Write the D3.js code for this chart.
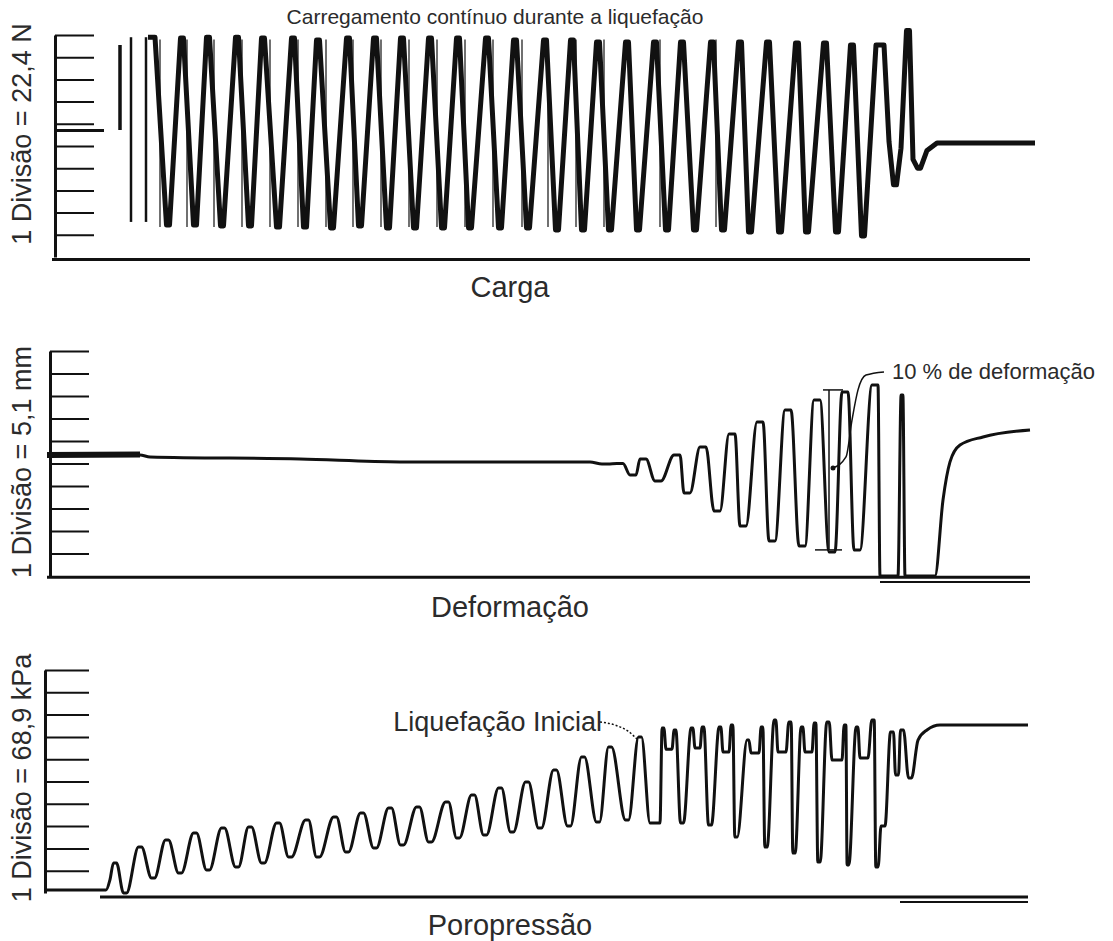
<!DOCTYPE html>
<html>
<head>
<meta charset="utf-8">
<script src="https://cdn.jsdelivr.net/npm/d3@7"></script>
<style>
  body { margin: 0; background: #fff; }
  text { font-family: "Liberation Sans", Arial, sans-serif; fill: #2b2b2b; }
</style>
</head>
<body>
<div class="chart"></div>
<script>
// tempo = arbitrary time units along the strip chart, div = chart divisions
const cargaTempo = [108, 115, 128, 142, 155, 168, 182, 197, 210, 223, 238, 253, 265, 278, 292, 308, 320, 335, 348, 362,
    375, 390, 403, 418, 430, 447, 460, 475, 488, 505, 517, 532, 543, 558, 570, 587, 598, 615, 627, 642,
    655, 672, 683, 700, 710, 728, 740, 757, 767, 785, 797, 812, 823, 836, 844, 849, 855, 861, 868, 873,
    879, 887, 897, 995];
const cargaDiv = [9.9, 9.9, 1.44, 9.86, 1.44, 9.9, 1.4, 9.9, 1.4, 9.86, 1.35, 9.86, 1.35, 9.77, 1.31, 9.86, 1.4, 9.86, 1.31, 9.86,
    1.31, 9.86, 1.31, 9.86, 1.31, 9.86, 1.31, 9.77, 1.31, 9.77, 1.22, 9.77, 1.22, 9.68, 1.22, 9.68, 1.22, 9.68, 1.22, 9.68,
    1.22, 9.68, 1.22, 9.68, 1.13, 9.68, 1.13, 9.64, 1.13, 9.64, 1.13, 9.55, 0.95, 9.55, 9.55, 5.2, 3.25, 4.9, 10.2, 4.4,
    4.0, 4.8, 5.14, 5.14];
// pen strokes of the recorder: [tempo, from div, to div, width]
const cargaPen = [[80, 5.72, 9.55, 3.5], [91, 1.58, 9.9, 2.5], [106, 1.58, 9.9, 2.5]];
const cargaPenThin = [120, 147, 174, 202, 230, 258, 286, 313, 341, 369, 397, 425, 453, 482, 508, 536, 564, 620, 676];
const cargaInicial = [[15, 5.7], [64, 5.7]];

const defTempo = [7, 100, 110, 260, 360, 550, 565, 580, 593, 603, 618, 637, 647, 663, 677, 692, 703, 720, 732, 748,
    762, 777, 792, 805, 817, 832, 838, 840, 858, 862, 865, 895, 903, 910, 920, 943, 990];
const defDiv = [5.38, 5.38, 5.29, 5.2, 5.07, 5.07, 4.98, 5.0, 4.49, 5.2, 4.22, 5.38, 3.69, 5.73, 2.89, 6.31, 2.22, 6.84, 1.56, 7.38,
    1.33, 7.82, 1.07, 8.18, 1.16, 8.49, 8.49, 0, 0, 8.04, 0, 0, 3.38, 5.07, 5.82, 6.18, 6.49];
const defInicio = [[7, 5.38], [100, 5.4]];
const defMarca = [[789, 1.16], [789, 8.27]];
const defSeta = [[793, 4.8], [806, 5.29], [812, 6.93], [818, 8.27], [826, 8.93], [844, 9.07]];

const poroTempo = [5, 66, 70, 75, 85, 100, 113, 127, 140, 155, 168, 183, 197, 210, 223, 238, 250, 267, 278, 295,
    307, 322, 335, 350, 362, 378, 390, 407, 418, 433, 445, 460, 472, 487, 500, 515, 529, 543, 558, 570,
    587, 600, 610, 620, 623, 626, 632, 635, 642, 652, 655, 660, 663, 670, 680, 683, 689, 692, 696, 708,
    711, 719, 722, 726, 735, 738, 746, 750, 754, 762, 765, 772, 775, 779, 788, 792, 802, 805, 808, 817,
    820, 828, 833, 837, 841, 845, 852, 857, 862, 870, 878, 887, 900, 988];
const poroDiv = [0.13, 0.13, 0.6, 1.35, 0.0, 2.06, 0.67, 2.38, 0.9, 2.69, 1.03, 2.91, 1.17, 2.96, 1.35, 3.14, 1.61, 3.27, 1.61, 3.41,
    1.84, 3.59, 2.02, 3.81, 2.15, 3.86, 2.29, 4.08, 2.47, 4.39, 2.6, 4.71, 2.74, 4.98, 2.91, 5.52, 3.0, 6.1, 3.18, 6.55,
    3.27, 7.0, 3.14, 3.14, 7.4, 6.45, 6.45, 7.31, 3.14, 7.4, 6.5, 6.5, 7.44, 3.05, 7.44, 6.32, 6.32, 7.53, 2.51, 6.86,
    6.28, 6.28, 7.44, 2.06, 7.76, 6.32, 6.32, 7.67, 1.79, 7.44, 6.32, 6.32, 7.62, 1.39, 7.67, 5.96, 5.96, 7.53, 1.26, 7.44,
    6.05, 6.05, 7.76, 1.17, 3.0, 3.0, 7.22, 5.29, 7.31, 5.16, 6.86, 7.31, 7.53, 7.53];
const poroSeta = [[560, 7.67], [575, 7.53], [588, 7.26], [598, 6.86]];

const divisoes = d3.range(1, 11);

const width = 1113, height = 941;
const svg = d3.select(".chart").append("svg")
    .attr("width", width)
    .attr("height", height);

const x = d3.scaleLinear().domain([0, 1000]).range([40, 1040]);

const panels = [
    {y: d3.scaleLinear().domain([0, 10]).range([257, 35]), eixo: 15, tick: 39, label: "1 Divisão = 22,4 N", labelY: 134, titulo: "Carga", tituloY: 297, base: [[12, -0.11], [990, -0.11]]},
    {y: d3.scaleLinear().domain([0, 10]).range([576, 351]), eixo: 10, tick: 39, label: "1 Divisão = 5,1 mm", labelY: 462, titulo: "Deformação", tituloY: 617, base: [[7, -0.05], [990, -0.05]]},
    {y: d3.scaleLinear().domain([0, 10]).range([893, 670]), eixo: 5, tick: 44, label: "1 Divisão = 68,9 kPa", labelY: 778, titulo: "Poropressão", tituloY: 935, base: [[60, -0.18], [988, -0.18]]}
];

// flatten each turning point a little, like the pen of the recorder
function plateau(ts, vs, w) {
    const pts = [];
    for (let i = 0; i < ts.length; i++) {
        const ext = i > 0 && i < ts.length - 1 &&
            ((vs[i] > vs[i-1] && vs[i] > vs[i+1]) || (vs[i] < vs[i-1] && vs[i] < vs[i+1]));
        if (ext && w > 0) {
            const h = Math.min(w, 0.3 * (ts[i] - ts[i-1]), 0.3 * (ts[i+1] - ts[i]));
            pts.push([ts[i] - h, vs[i]], [ts[i] + h, vs[i]]);
        } else {
            pts.push([ts[i], vs[i]]);
        }
    }
    return pts;
}

panels.forEach(p => {
    const g = svg.append("g");
    g.append("g")
        .attr("transform", `translate(${x(p.eixo)},0)`)
        .call(d3.axisRight(p.y).tickValues(divisoes).tickSize(p.tick).tickSizeOuter(0).tickFormat(""))
        .call(a => a.select(".domain").attr("stroke", "#111").attr("stroke-width", 3))
        .call(a => a.selectAll(".tick line").attr("stroke", "#111").attr("stroke-width", 2));

    g.append("path")
        .attr("d", d3.line().x(d => x(d[0])).y(d => p.y(d[1]))(p.base))
        .attr("stroke", "#111")
        .attr("stroke-width", 3)
        .attr("fill", "none");

    g.append("text")
        .attr("transform", `translate(22,${p.labelY}) rotate(-90)`)
        .attr("text-anchor", "middle")
        .attr("dominant-baseline", "central")
        .attr("font-size", 27)
        .text(p.label);

    g.append("text")
        .attr("x", 510)
        .attr("y", p.tituloY)
        .attr("text-anchor", "middle")
        .attr("font-size", 29)
        .text(p.titulo);
});

const [pC, pD, pP] = panels;

function trace(ts, vs, y, w, sw, curve) {
    svg.append("path")
        .attr("d", d3.line().x(d => x(d[0])).y(d => y(d[1])).curve(curve)(plateau(ts, vs, w)))
        .attr("fill", "none")
        .attr("stroke", "#111")
        .attr("stroke-width", sw)
        .attr("stroke-linejoin", "round");
}

// Carga
svg.selectAll(".pen")
    .data(cargaPen)
    .enter()
    .append("line")
    .attr("x1", d => x(d[0])).attr("x2", d => x(d[0]))
    .attr("y1", d => pC.y(d[1])).attr("y2", d => pC.y(d[2]))
    .attr("stroke", "#111")
    .attr("stroke-width", d => d[3]);

svg.selectAll(".penThin")
    .data(cargaPenThin)
    .enter()
    .append("line")
    .attr("x1", d => x(d)).attr("x2", d => x(d))
    .attr("y1", pC.y(1.35)).attr("y2", pC.y(9.8))
    .attr("stroke", "#111")
    .attr("stroke-width", 1.2);

svg.append("path")
    .attr("d", d3.line().x(d => x(d[0])).y(d => pC.y(d[1]))(cargaInicial))
    .attr("stroke", "#111")
    .attr("stroke-width", 3);

trace(cargaTempo, cargaDiv, pC.y, 1.5, 5, d3.curveLinear);

svg.append("text")
    .attr("x", 495)
    .attr("y", 24)
    .attr("text-anchor", "middle")
    .attr("font-size", 21)
    .text("Carregamento contínuo durante a liquefação");

// Deformação
svg.append("path")
    .attr("d", d3.line().x(d => x(d[0])).y(d => pD.y(d[1]))([[840, -0.27], [990, -0.27]]))
    .attr("stroke", "#111")
    .attr("stroke-width", 2);

svg.append("path")
    .attr("d", d3.line().x(d => x(d[0])).y(d => pD.y(d[1]))(defInicio))
    .attr("stroke", "#111")
    .attr("stroke-width", 6);

trace(defTempo, defDiv, pD.y, 3, 3, d3.curveMonotoneX);

svg.append("line")
    .attr("x1", x(defMarca[0][0])).attr("x2", x(defMarca[1][0]))
    .attr("y1", pD.y(defMarca[0][1])).attr("y2", pD.y(defMarca[1][1]))
    .attr("stroke", "#111").attr("stroke-width", 1.5);
svg.append("line")
    .attr("x1", x(defMarca[1][0] - 6)).attr("x2", x(defMarca[1][0] + 14))
    .attr("y1", pD.y(defMarca[1][1])).attr("y2", pD.y(defMarca[1][1]))
    .attr("stroke", "#111").attr("stroke-width", 1.5);
svg.append("line")
    .attr("x1", x(defMarca[0][0] - 14)).attr("x2", x(defMarca[0][0] + 13))
    .attr("y1", pD.y(defMarca[0][1])).attr("y2", pD.y(defMarca[0][1]))
    .attr("stroke", "#111").attr("stroke-width", 1.5);

svg.append("path")
    .attr("d", d3.line().x(d => x(d[0])).y(d => pD.y(d[1])).curve(d3.curveMonotoneX)(defSeta))
    .attr("fill", "none")
    .attr("stroke", "#111")
    .attr("stroke-width", 1.5);
svg.append("circle")
    .attr("cx", x(defSeta[0][0]))
    .attr("cy", pD.y(defSeta[0][1]))
    .attr("r", 2.5)
    .attr("fill", "#111");

svg.append("text")
    .attr("x", x(defSeta[defSeta.length - 1][0]) + 8)
    .attr("y", pD.y(defSeta[defSeta.length - 1][1]) + 7)
    .attr("font-size", 22)
    .text("10 % de deformação");

// Poropressão
svg.append("path")
    .attr("d", d3.line().x(d => x(d[0])).y(d => pP.y(d[1]))([[860, -0.4], [988, -0.4]]))
    .attr("stroke", "#111")
    .attr("stroke-width", 2);

trace(poroTempo, poroDiv, pP.y, 1.5, 3, d3.curveMonotoneX);

svg.append("path")
    .attr("d", d3.line().x(d => x(d[0])).y(d => pP.y(d[1])).curve(d3.curveMonotoneX)(poroSeta))
    .attr("fill", "none")
    .attr("stroke", "#111")
    .attr("stroke-width", 1.5)
    .attr("stroke-dasharray", "2,2");

svg.append("text")
    .attr("x", x(poroSeta[0][0]) + 2)
    .attr("y", pP.y(poroSeta[0][1]) + 9)
    .attr("text-anchor", "end")
    .attr("font-size", 27)
    .text("Liquefação Inicial");
</script>
</body>
</html>
